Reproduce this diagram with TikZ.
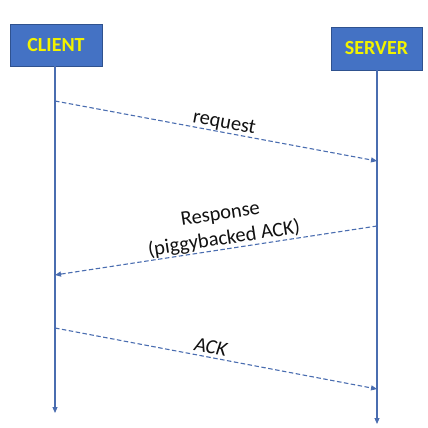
\documentclass[tikz,border=0pt]{standalone}
\usepackage{fontspec}
\setmainfont{Carlito}
\usetikzlibrary{arrows.meta}
\definecolor{boxfill}{HTML}{4472C4}
\definecolor{boxline}{HTML}{2F528F}
\definecolor{lifeline}{HTML}{4A6DB0}
\definecolor{msgline}{HTML}{4A6DB0}
\definecolor{boxtext}{HTML}{F2F200}
\definecolor{labeltext}{HTML}{111111}
\tikzset{
  actor/.style={draw=boxline, line width=0.9pt, fill=boxfill, text=boxtext,
    font=\fontsize{20}{24}\selectfont\bfseries, inner sep=0pt},
  lifelinestyle/.style={draw=lifeline, line width=1.1pt, -{Triangle[length=6pt,width=5pt]}},
  msg/.style={draw=msgline, line width=1.1pt, dash pattern=on 4.5pt off 2.5pt, -{Triangle[length=6pt,width=5pt]}},
  msglabel/.style={font=\fontsize{20.5}{25}\selectfont, text=labeltext, sloped, above, inner sep=0.5pt, align=center}
}
\begin{document}
\begin{tikzpicture}[x=1pt,y=-1pt]
\useasboundingbox (0,0) rectangle (428,428);
\node[actor, minimum width=92pt, minimum height=42pt] (client) at (56,45) {CLIENT};
\node[actor, minimum width=91pt, minimum height=43pt] (server) at (376.5,48.5) {SERVER};
\coordinate (cend) at (55,413);
\coordinate (send) at (377,424);
\draw[lifelinestyle] (client.south -| cend) -- (cend);
\draw[lifelinestyle] (server.south -| send) -- (send);
\coordinate (c1) at (55,101);
\coordinate (s1) at (377,161);
\coordinate (s2) at (377,226);
\coordinate (c2) at (55,275);
\coordinate (c3) at (55,328);
\coordinate (s3) at (377,389);
\draw[msg] (c1) -- node[msglabel, pos=0.52] {request} (s1);
\draw[msg] (s2) -- node[msglabel, pos=0.47] {Response\\(piggybacked ACK)} (c2);
\draw[msg] (c3) -- node[msglabel, pos=0.478, inner sep=3pt] {\itshape ACK} (s3);
\end{tikzpicture}
\end{document}
